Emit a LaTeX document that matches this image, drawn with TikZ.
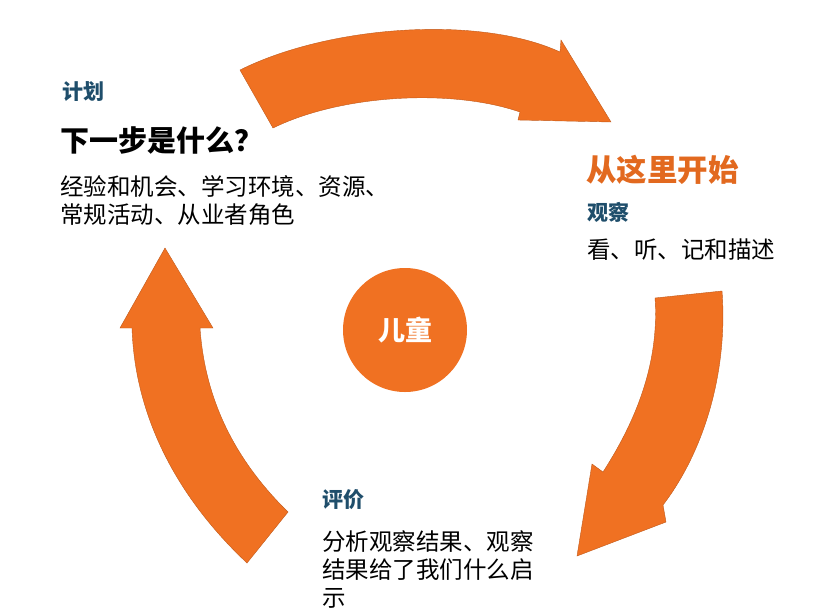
\documentclass[tikz,border=0pt]{standalone}
\usepackage{fontspec}
\setmainfont{Noto Sans CJK SC}
\usetikzlibrary{positioning}
\definecolor{arroworange}{HTML}{F07122}
\definecolor{headblue}{HTML}{1F4E6B}
\definecolor{startorange}{HTML}{E2691F}

\begin{document}
\begin{tikzpicture}[x=1pt,y=-1pt,
                    cycle arrow/.style={fill=arroworange,draw=arroworange!80!black,line width=0.4pt},
                    stage/.style={anchor=west,inner sep=0pt,font=\fontsize{21}{24}\selectfont\bfseries,text=headblue},
                    body/.style={anchor=west,inner sep=0pt,align=left,font=\fontsize{23.5}{28}\selectfont}]
                \useasboundingbox (0,0) rectangle (838,614);
                % the three arrows of the cycle
                \fill[cycle arrow] (240,70) .. controls (330,25) and (480,15) .. (560,52)
                    -- (561,40) -- (611,122) -- (518,120) -- (520,112)
                    .. controls (450,88) and (340,95) .. (273,128) -- cycle;
                \fill[cycle arrow] (722,291) .. controls (728,370) and (705,450) .. (663,505)
                    -- (666,522) -- (577,556) -- (592,464) -- (603,472)
                    .. controls (630,430) and (660,370) .. (655,298) -- cycle;
                \fill[cycle arrow] (247,563) .. controls (180,500) and (135,420) .. (132,328)
                    -- (120,328) -- (165,248) -- (213,328) -- (200,328)
                    .. controls (205,400) and (235,460) .. (288,512) -- cycle;
                % the child in the middle
                \node[circle,fill=arroworange,minimum size=124pt,inner sep=0pt,text=white,
                      font=\fontsize{27}{30}\selectfont\bfseries] (child) at (405,330) {儿童};
                % plan
                \node[stage] (plan) at (62,92) {计划};
                \node[anchor=west,inner sep=0pt,font=\fontsize{29}{32}\selectfont\bfseries] (next) at (60,141) {下一步是什么？};
                \node[body,anchor=north west] (plantext) at (60,175) {经验和机会、学习环境、资源、\\常规活动、从业者角色};
                % observe
                \node[anchor=west,inner sep=0pt,text=startorange,font=\fontsize{30.5}{34}\selectfont\bfseries] (start) at (586,170) {从这里开始};
                \node[stage] (observe) at (587,212) {观察};
                \node[body] (obstext) at (587,250) {看、听、记和描述};
                % evaluate
                \node[stage] (assess) at (322,500) {评价};
                \node[body,anchor=north west] (asstext) at (322,530) {分析观察结果、观察\\结果给了我们什么启\\示};
\end{tikzpicture}
\end{document}
